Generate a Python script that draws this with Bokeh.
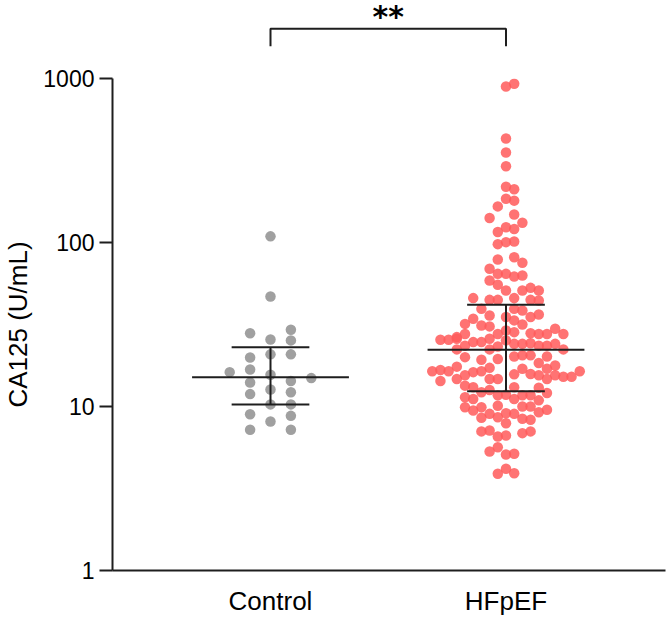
from bokeh.plotting import figure
from bokeh.models import Range1d, FixedTicker, NumeralTickFormatter
from bokeh.layouts import column
from bokeh.embed import file_html
from bokeh.resources import INLINE
from bokeh.core.properties import value

# ---------------- data ----------------
groups = ["Control", "HFpEF"]
group_pos = [1, 2]

control_values = [109, 46.9, 28.0, 29.4, 25.6, 25.3, 19.9, 20.8, 20.8, 16.2, 16.8, 15.6,
                  14.9, 14.0, 14.3, 11.9, 12.7, 12.2, 10.3, 10.3, 8.98, 8.77, 8.1, 7.21, 7.21]
control_slots = [0, 0, -1, 1, 0, 1, -1, 0, 1, -2, -1, 0,
                 2, -1, 1, -1, 0, 1, 0, 1, -1, 1, 0, -1, 1]

hf_values = [894, 929, 431, 354, 292, 219, 211, 185, 180, 166, 141, 148, 132, 116, 124, 121, 97.7, 100.5, 101.4,
             78.8, 81.3, 75.2, 69.1, 64.4, 64.4, 62.1, 62.9, 58.6, 55.2,
             51.0, 51.0, 52.9, 51.0, 45.8, 44.7, 44.7, 45.8, 44.7, 44.3,
             39.4, 39.4, 38.5, 35.9, 35.1, 35.1, 36.4, 33.5,
             31.9, 34.3, 31.2, 30.8, 31.6, 29.1, 28.4, 29.8,
             26.5, 27.7, 27.7, 28.0, 27.7, 27.7, 27.7, 25.5, 25.5, 25.9,
             24.7, 24.7, 25.9, 25.3, 24.1, 24.1, 24.3, 23.5, 23.5, 24.1, 23.5,
             22.3, 22.3, 23.2, 22.3, 20.0, 20.2, 20.5, 20.5, 20.2, 19.3, 19.5,
             17.5, 17.2, 18.4, 17.8, 16.4, 16.7, 16.4, 16.2, 16.4, 17.0, 17.0, 16.4,
             15.5, 15.7, 15.8, 15.5, 15.5, 15.2, 15.2, 14.7, 14.7, 14.7, 14.7, 14.3,
             13.4, 13.1, 13.1, 13.0, 12.6, 12.2,
             11.7, 11.8, 11.7, 11.7, 12.1, 11.4, 11.1, 11.1, 10.9,
             10.1, 9.9, 9.45, 9.9, 10.0, 10.0, 9.02, 9.1, 9.02, 9.23, 9.55,
             8.53, 8.6, 8.41, 8.3, 7.91, 7.05, 7.14, 6.88, 7.05, 6.56, 6.65,
             5.65, 5.32, 5.1, 5.15, 4.17, 3.89, 3.92]
hf_slots = [0, 1, 0, 0, 0, 0, 1, 0, 1, -1, -2, 1, 2, -1, 0, 1, -1, 0, 1,
            -1, 1, 2, -2, -1, 0, 1, 2, -2, -1,
            0, 2, 3, 4, -4, -2, -1, 1, 3, 4,
            -3, 1, 2, -2, 0, 3, 4, 1,
            -5, -4, -3, -2, 2, 0, 1, 6,
            -6, -5, -1, 3, 4, 5, 7, -8, -7, -6,
            -4, -3, -2, 0, 1, 2, 3, 4, 5, 6, -5,
            -6, -2, -1, 7, -5, 1, 2, 3, 5, -3, -1,
            -6, -2, 4, 6, -9, -8, -7, -4, -3, 2, 5, 9,
            -5, 1, 3, 4, 6, 7, 8, -6, -2, -1, 5, -8,
            -5, -4, 1, 4, -2, -3,
            -1, 0, 2, 3, 5, -5, -4, 1, 4,
            -1, -5, -4, -3, 2, 3, -2, 0, 1, 4, 5,
            -3, -1, 2, 3, 0, -3, -2, 2, 3, -1, 0,
            -1, -2, 0, 1, 0, -1, 1]

medians = [15.1, 22.2]
q1 = [10.3, 12.4]
q3 = [23.0, 41.7]
y_ticks = [1, 10, 100, 1000]
sig_text = "**"

# ---------------- layout / style ----------------
FONT = "Liberation Sans"
LINE = "#1e1e1e"
CTRL_STEP = 0.0866
HF_STEP = 0.0348
MED_HALF = 0.333
Q_HALF = 0.165

xr = Range1d(0.3291, 2.6773)

p = figure(width=667, height=554, x_range=xr, y_range=Range1d(1, 1000), y_axis_type="log",
           output_backend="svg", toolbar_location=None,
           min_border_left=112, min_border_right=2, min_border_top=14, min_border_bottom=48)
p.outline_line_color = None
p.xgrid.visible = False
p.ygrid.visible = False
p.background_fill_color = "white"
p.border_fill_color = "white"

ctrl_x = [group_pos[0] + s * CTRL_STEP for s in control_slots]
hf_x = [group_pos[1] + s * HF_STEP for s in hf_slots]

p.scatter(ctrl_x, control_values, size=10.5, fill_color="#a0a0a0", line_color=None)
p.scatter(hf_x, hf_values, size=10.5, fill_color="#ff5a5a", fill_alpha=0.85, line_color=None)

p.segment(x0=[g - MED_HALF for g in group_pos], x1=[g + MED_HALF for g in group_pos],
          y0=medians, y1=medians, line_color=LINE, line_width=2)
p.segment(x0=[g - Q_HALF for g in group_pos] * 2, x1=[g + Q_HALF for g in group_pos] * 2,
          y0=q1 + q3, y1=q1 + q3, line_color=LINE, line_width=2)
p.segment(x0=group_pos, x1=group_pos, y0=q1, y1=q3, line_color=LINE, line_width=2)

ya = p.yaxis[0]
ya.ticker = FixedTicker(ticks=y_ticks, minor_ticks=[])
ya.formatter = NumeralTickFormatter(format="0")
ya.axis_label = "CA125 (U/mL)"
ya.axis_label_text_font = FONT
ya.axis_label_text_font_size = "26px"
ya.axis_label_text_font_style = "normal"
ya.axis_label_text_color = "black"
ya.axis_label_standoff = 7
ya.major_label_text_font = FONT
ya.major_label_text_font_size = "23px"
ya.major_label_text_color = "black"
ya.major_label_standoff = 5
ya.major_tick_out = 13
ya.major_tick_in = 0
ya.minor_tick_out = 0
ya.minor_tick_in = 0
ya.major_tick_line_width = 2
ya.major_tick_line_color = LINE
ya.axis_line_width = 2
ya.axis_line_color = LINE

xa = p.xaxis[0]
xa.ticker = FixedTicker(ticks=group_pos, minor_ticks=[])
xa.major_label_overrides = {group_pos[0]: groups[0], group_pos[1]: groups[1]}
xa.major_label_text_font = FONT
xa.major_label_text_font_size = "26px"
xa.major_label_text_color = "black"
xa.major_label_standoff = 15
xa.major_tick_out = 0
xa.major_tick_in = 0
xa.minor_tick_out = 0
xa.minor_tick_in = 0
xa.axis_line_width = 2
xa.axis_line_color = LINE

# ---------------- significance bracket ----------------
TOP_H = 64
top = figure(width=667, height=TOP_H, x_range=xr, y_range=Range1d(TOP_H, 0),
             x_axis_type=None, y_axis_type=None, output_backend="svg", toolbar_location=None,
             min_border_left=112, min_border_right=2, min_border_top=0, min_border_bottom=0)
top.outline_line_color = None
top.border_fill_color = "white"
top.background_fill_color = "white"
BR_TOP, BR_END = 28.3, 45.7
top.line([group_pos[0], group_pos[0], group_pos[1], group_pos[1]],
         [BR_END, BR_TOP, BR_TOP, BR_END], line_color=LINE, line_width=2)
top.text(x=[(group_pos[0] + group_pos[1]) / 2], y=[15.5], text=[sig_text],
         text_font=value("DejaVu Sans"), text_font_style="bold", text_font_size="30px",
         text_align="center", text_baseline="alphabetic", text_color="black")

layout = column(top, p)
open("out.html", "w").write(file_html(layout, INLINE))
